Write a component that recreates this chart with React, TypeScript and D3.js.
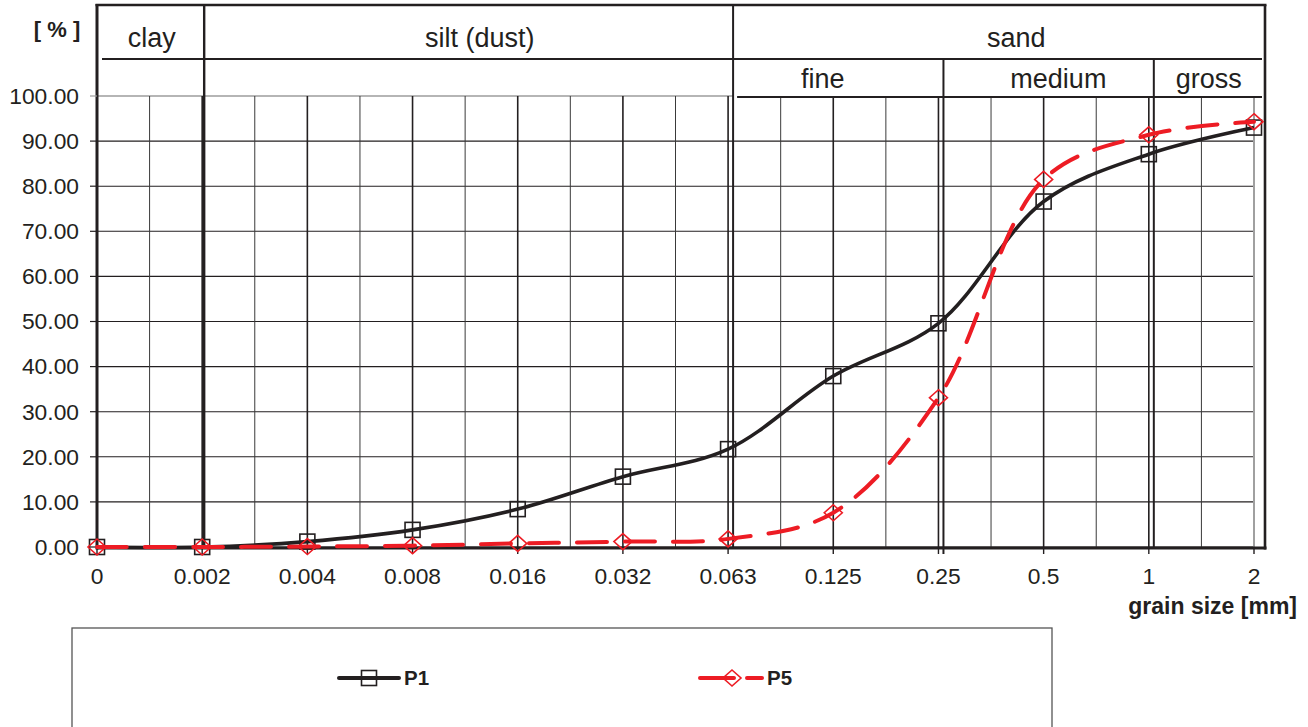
import React from "react";
import * as d3 from "d3";

const categories = ["0", "0.002", "0.004", "0.008", "0.016", "0.032", "0.063", "0.125", "0.25", "0.5", "1", "2"];
const p1Values = [0, 0, 1.2, 3.8, 8.4, 15.6, 21.7, 37.9, 49.6, 76.6, 87.1, 93.0];
const p5Values = [0, 0, 0.1, 0.3, 0.8, 1.2, 1.8, 7.6, 33.1, 81.5, 91.4, 94.3];
const yTicks = [0, 10, 20, 30, 40, 50, 60, 70, 80, 90, 100];
const seriesNames = ["P1", "P5"];

// header sections: label, position in category-index units
const headerTop = [
  { label: "clay", pos: 0.52 },
  { label: "silt (dust)", pos: 3.64 },
  { label: "sand", pos: 8.74 },
];
const headerSub = [
  { label: "fine", pos: 6.9 },
  { label: "medium", pos: 9.14 },
  { label: "gross", pos: 10.57 },
];

const W = 1308;
const H = 727;
const FONT = "'Liberation Sans', Arial, Helvetica, sans-serif";
const BLACK = "#231f20";
const RED = "#ed1c24";

export default function App() {
  const x = d3.scalePoint<string>().domain(categories).range([97, 1254]);
  const step = x.step();
  const idx = d3.scaleLinear().domain([0, categories.length - 1]).range([97, 1254]);
  const y = d3.scaleLinear().domain([0, 100]).range([547, 96]);

  const left = 97;
  const right = 1265;
  const top = 5;
  const headerMid = 59;
  const bottom = 548;

  const line = d3
    .line<number>()
    .x((_, i) => x(categories[i]) as number)
    .y((d) => y(d))
    .curve(d3.curveCatmullRom.alpha(0.5));

  const mids = categories.slice(0, -1).map((c) => (x(c) as number) + step / 2);

  const divClaySilt = (x("0.002") as number) + 2;
  const divSiltSand = (x("0.063") as number) + 5;
  const divFineMed = (x("0.25") as number) + 5;
  const divMedGross = (x("1") as number) + 5;

  const legendItems = [
    { name: seriesNames[0], cx: 369, x1: 339, x2: 399, color: BLACK, dash: undefined as string | undefined, marker: "square" },
    { name: seriesNames[1], cx: 732, x1: 700, x2: 762, color: RED, dash: "34 13", marker: "diamond" },
  ];

  const square = (cx: number, cy: number, key: string) => (
    <rect key={key} x={cx - 7.5} y={cy - 7.5} width={15} height={15} fill="none" stroke={BLACK} strokeWidth={1.6} />
  );
  const diamond = (cx: number, cy: number, key: string) => (
    <path
      key={key}
      d={`M${cx},${cy - 8} L${cx + 9},${cy} L${cx},${cy + 8} L${cx - 9},${cy} Z`}
      fill="none"
      stroke={RED}
      strokeWidth={1.6}
    />
  );

  return (
    <div style={{ position: "absolute", left: 0, top: 0, width: W, height: H, background: "#fff" }}>
      <svg width={W} height={H} style={{ display: "block" }} fontFamily={FONT}>
        {/* horizontal gridlines */}
        {yTicks.map((t) => (
          <line
            key={"h" + t}
            x1={left}
            x2={t === 100 ? divSiltSand : x("2")}
            y1={y(t)}
            y2={y(t)}
            stroke={t === 100 ? "#9d9d9d" : BLACK}
            strokeWidth={t === 100 ? 1.5 : 1.1}
          />
        ))}
        {/* minor vertical gridlines */}
        {mids.map((m, i) => (
          <line key={"m" + i} x1={m} x2={m} y1={y(100)} y2={y(0)} stroke="#3a3a3a" strokeWidth={1} />
        ))}
        {/* major vertical gridlines */}
        {categories.map((c, i) => (
          <line
            key={"v" + c}
            x1={x(c)}
            x2={x(c)}
            y1={y(100)}
            y2={y(0)}
            stroke={i === categories.length - 1 ? "#a0a0a0" : BLACK}
            strokeWidth={i === categories.length - 1 ? 2 : 1.6}
          />
        ))}

        {/* header lines */}
        <line x1={left + 5} x2={right - 3} y1={headerMid} y2={headerMid} stroke={BLACK} strokeWidth={2.2} />
        <line x1={divSiltSand + 4} x2={right - 3} y1={97} y2={97} stroke={BLACK} strokeWidth={2.2} />

        {/* dividers */}
        <line x1={divClaySilt} x2={divClaySilt} y1={top} y2={bottom} stroke={BLACK} strokeWidth={2.4} />
        <line x1={divSiltSand} x2={divSiltSand} y1={top} y2={bottom} stroke={BLACK} strokeWidth={2} />
        <line x1={divFineMed} x2={divFineMed} y1={headerMid} y2={bottom + 6} stroke={BLACK} strokeWidth={2} />
        <line x1={divMedGross} x2={divMedGross} y1={headerMid} y2={bottom} stroke={BLACK} strokeWidth={2} />

        {/* frame */}
        <line x1={left} x2={left} y1={top - 1} y2={bottom + 1.5} stroke={BLACK} strokeWidth={3} />
        <line x1={left - 1.5} x2={right + 1.5} y1={top} y2={top} stroke={BLACK} strokeWidth={2.6} />
        <line x1={right} x2={right} y1={top} y2={bottom + 1.5} stroke={BLACK} strokeWidth={2.6} />
        <line x1={left} x2={right + 1.5} y1={bottom} y2={bottom} stroke={BLACK} strokeWidth={3} />

        {/* y ticks and labels */}
        {yTicks.map((t) => (
          <g key={"yt" + t}>
            <line x1={left - 7} x2={left} y1={y(t)} y2={y(t)} stroke={t === 100 ? "#9d9d9d" : BLACK} strokeWidth={1.2} />
            <text x={79} y={y(t) + 7.8} textAnchor="end" fontSize={22.8} fill={BLACK}>
              {t.toFixed(2)}
            </text>
          </g>
        ))}

        {/* x ticks and labels */}
        {categories.map((c) => (
          <g key={"xt" + c}>
            <line x1={x(c)} x2={x(c)} y1={bottom} y2={bottom + 6} stroke={BLACK} strokeWidth={1.4} />
            <text x={x(c)} y={584} textAnchor="middle" fontSize={22.8} fill={BLACK}>
              {c}
            </text>
          </g>
        ))}

        {/* header labels */}
        {headerTop.map((h) => (
          <text key={h.label} x={idx(h.pos)} y={47} textAnchor="middle" fontSize={27} fill={BLACK}>
            {h.label}
          </text>
        ))}
        {headerSub.map((h) => (
          <text key={h.label} x={idx(h.pos)} y={88} textAnchor="middle" fontSize={27} fill={BLACK}>
            {h.label}
          </text>
        ))}

        {/* axis titles */}
        <text x={57} y={37} textAnchor="middle" fontSize={22} fontWeight="bold" fill={BLACK}>
          [ % ]
        </text>
        <text x={1297} y={614} textAnchor="end" fontSize={23} fontWeight="bold" fill={BLACK}>
          grain size [mm]
        </text>

        {/* series P1 */}
        <path d={line(p1Values) || ""} fill="none" stroke={BLACK} strokeWidth={3.6} strokeLinejoin="round" />
        {p1Values.map((v, i) => square(x(categories[i]) as number, y(v), "s" + i))}

        {/* series P5 */}
        <path
          d={line(p5Values) || ""}
          fill="none"
          stroke={RED}
          strokeWidth={4}
          strokeDasharray="30 18"
          strokeLinecap="round"
        />
        {p5Values.map((v, i) => diamond(x(categories[i]) as number, y(v), "d" + i))}

        {/* legend */}
        <rect x={72} y={628} width={980} height={120} fill="none" stroke="#555" strokeWidth={1.3} />
        {legendItems.map((it) => (
          <g key={it.name}>
            <line
              x1={it.x1}
              x2={it.x2}
              y1={678}
              y2={678}
              stroke={it.color}
              strokeWidth={4}
              strokeLinecap="round"
              strokeDasharray={it.dash}
            />
            {it.marker === "square" ? square(it.cx, 678, "ls") : diamond(it.cx, 678, "ld")}
            <text x={it.x2 + 5} y={685} fontSize={20.5} fontWeight="bold" fill={BLACK}>
              {it.name}
            </text>
          </g>
        ))}
      </svg>
    </div>
  );
}
